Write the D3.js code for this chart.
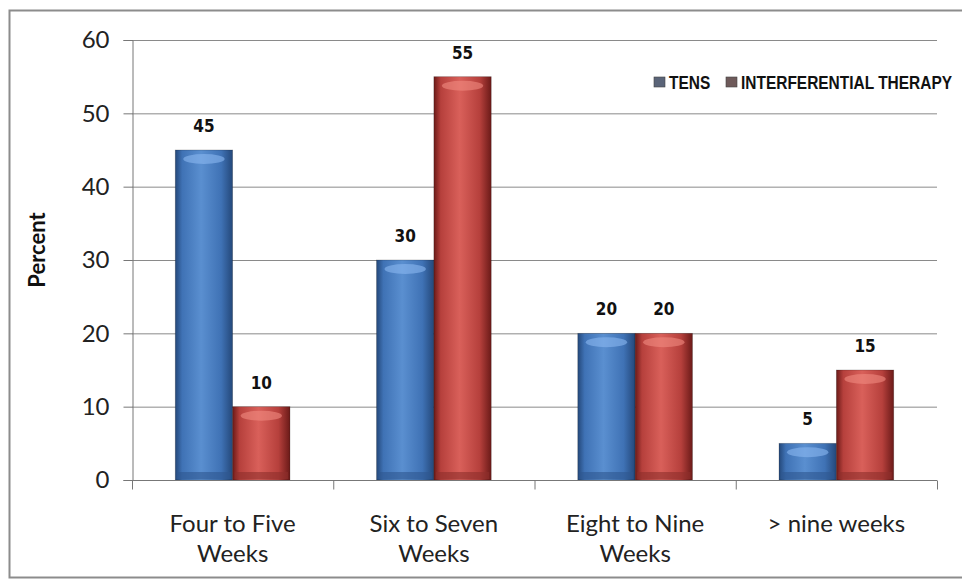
<!DOCTYPE html>
<html><head><meta charset="utf-8">
<script src="https://cdn.jsdelivr.net/npm/d3@7"></script>
<style>body{margin:0;background:#fff;overflow:hidden}svg{display:block}</style>
</head><body>
<svg id="c" width="962" height="582"></svg>
<script>
const categories = [["Four to Five","Weeks"],["Six to Seven","Weeks"],["Eight to Nine","Weeks"],["> nine weeks"]];
const seriesNames = ["TENS","INTERFERENTIAL THERAPY"];
const tens = [45,30,20,5];
const interferential = [10,55,20,15];
const yTicks = [0,10,20,30,40,50,60];

const svg = d3.select("#c");
const W=962,H=582;
const m = {l:132, r:25, t:40, b:102};
const defs = svg.append("defs");
function grad(id, dark, mid, light){
  const g = defs.append("linearGradient").attr("id",id).attr("x1","0").attr("x2","1").attr("y1","0").attr("y2","0");
  g.append("stop").attr("offset","0%").attr("stop-color",dark);
  g.append("stop").attr("offset","12%").attr("stop-color",mid);
  g.append("stop").attr("offset","45%").attr("stop-color",light);
  g.append("stop").attr("offset","80%").attr("stop-color",mid);
  g.append("stop").attr("offset","100%").attr("stop-color",dark);
}
grad("gb","#24487a","#3f72b5","#5a8fd0");
grad("gr","#6b1a18","#b6403c","#d9605a");
const colors = ["url(#gb)","url(#gr)"];
const legendCol = ["#5a6478","#6e5a5a"];

// outer frame
svg.append("rect").attr("x",9.5).attr("y",10.5).attr("width",970).attr("height",567).attr("fill","#fff").attr("stroke","#8c8c8c").attr("stroke-width",2);

const x0 = d3.scaleBand().domain(d3.range(categories.length)).range([m.l, W-m.r]).paddingInner(0.43).paddingOuter(0.215);
const band = d3.scaleBand().domain(d3.range(categories.length)).range([m.l, W-m.r]);
const x1 = d3.scaleBand().domain([0,1]).range([0,x0.bandwidth()]).padding(0);
const y = d3.scaleLinear().domain([0,60]).range([H-m.b, m.t]);

// gridlines
svg.append("g").selectAll("line").data(yTicks.slice(1)).join("line")
  .attr("x1",m.l).attr("x2",W-m.r).attr("y1",d=>y(d)+0.5).attr("y2",d=>y(d)+0.5)
  .attr("stroke","#8a8a8a").attr("stroke-width",1);

// y axis
const ya = svg.append("g").attr("transform",`translate(${m.l+0.5},0)`)
  .call(d3.axisLeft(y).tickValues(yTicks).tickSize(9).tickPadding(14));
ya.select(".domain").attr("stroke","#777");
ya.selectAll(".tick line").attr("stroke","#777");
ya.selectAll("text").attr("font-family","Lato, 'Open Sans', sans-serif").attr("font-size",24).attr("fill","#222");

// bars
const data = [tens, interferential];
data.forEach((vals,s)=>{
  const g = svg.append("g");
  g.selectAll("rect").data(vals).join("rect")
    .attr("x",(d,i)=>x0(i)+x1(s)).attr("width",x1.bandwidth())
    .attr("y",d=>y(d)).attr("height",d=>y(0)-y(d))
    .attr("fill",colors[s]).attr("stroke","rgba(0,0,0,0.25)").attr("stroke-width",0.8);
  g.selectAll("ellipse").data(vals).join("ellipse")
    .attr("cx",(d,i)=>x0(i)+x1(s)+x1.bandwidth()/2).attr("cy",d=>y(d)+9)
    .attr("rx",x1.bandwidth()/2-8).attr("ry",5)
    .attr("fill",s===0?"#8ab8f0":"#f08a80").attr("opacity",0.6);
  g.selectAll("rect.b").data(vals).join("rect").attr("class","b")
    .attr("x",(d,i)=>x0(i)+x1(s)+2).attr("width",x1.bandwidth()-4)
    .attr("y",y(0)-8).attr("height",7)
    .attr("fill",s===0?"#2f568f":"#8e2e2b").attr("opacity",0.6);
  svg.append("g").selectAll("text").data(vals).join("text")
    .attr("x",(d,i)=>x0(i)+x1(s)+x1.bandwidth()/2).attr("y",d=>y(d)-18)
    .attr("text-anchor","middle").attr("font-family","'DejaVu Sans Condensed','DejaVu Sans', sans-serif").attr("font-weight","bold")
    .attr("font-size",17).attr("fill","#111").text(d=>d);
});

// x axis
const xa = svg.append("g").attr("transform",`translate(0,${y(0)+0.5})`);
xa.append("line").attr("x1",m.l).attr("x2",W-m.r).attr("stroke","#777");
xa.selectAll("line.t").data(d3.range(categories.length+1)).join("line").attr("class","t")
  .attr("x1",i=>m.l+i*band.bandwidth()+0.5).attr("x2",i=>m.l+i*band.bandwidth()+0.5).attr("y1",0).attr("y2",9).attr("stroke","#777");
categories.forEach((lines,i)=>{
  const t = xa.append("text").attr("text-anchor","middle").attr("font-family","Lato, 'Open Sans', sans-serif")
    .attr("font-size",24).attr("fill","#222");
  lines.forEach((ln,k)=>t.append("tspan").attr("x",band(i)+band.bandwidth()/2).attr("y",51+k*30).text(ln));
});

// y label
svg.append("text").attr("transform",`translate(45,250) rotate(-90)`)
  .attr("text-anchor","middle").attr("font-family","Lato, 'Open Sans', sans-serif").attr("font-weight","bold")
  .attr("font-size",22).attr("fill","#111").text("Percent");

// legend
const lg = svg.append("g").attr("font-family","'Liberation Sans',Arial,sans-serif").attr("font-weight","bold").attr("font-size",18).attr("fill","#111");
const lx = [654, 726];
seriesNames.forEach((n,i)=>{
  lg.append("rect").attr("x",lx[i]).attr("y",77).attr("width",11).attr("height",10).attr("fill",legendCol[i]).attr("stroke","#444").attr("stroke-width",0.6);
  lg.append("text").attr("transform",`translate(${lx[i]+15},89) scale(0.86,1)`).text(n);
});
</script>
</body></html>
